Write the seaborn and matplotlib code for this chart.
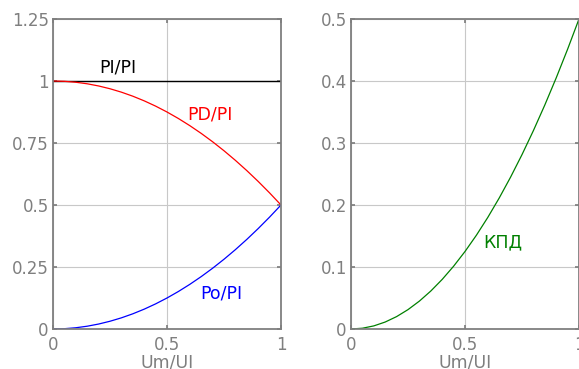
import matplotlib
matplotlib.use("Agg")
import matplotlib.pyplot as plt
import seaborn as sns
import pandas as pd

# data
ratio = [0.0, 0.05, 0.1, 0.15, 0.2, 0.25, 0.3, 0.35, 0.4, 0.45, 0.5,
         0.55, 0.6, 0.65, 0.7, 0.75, 0.8, 0.85, 0.9, 0.95, 1.0]
pi_pi = [1.0] * 21
po_pi = [0.0, 0.00125, 0.005, 0.01125, 0.02, 0.03125, 0.045, 0.06125, 0.08, 0.10125, 0.125,
         0.15125, 0.18, 0.21125, 0.245, 0.28125, 0.32, 0.36125, 0.405, 0.45125, 0.5]
pd_pi = [1.0, 0.99875, 0.995, 0.98875, 0.98, 0.96875, 0.955, 0.93875, 0.92, 0.89875, 0.875,
         0.84875, 0.82, 0.78875, 0.755, 0.71875, 0.68, 0.63875, 0.595, 0.54875, 0.5]
kpd = [0.0, 0.00125, 0.005, 0.01125, 0.02, 0.03125, 0.045, 0.06125, 0.08, 0.10125, 0.125,
       0.15125, 0.18, 0.21125, 0.245, 0.28125, 0.32, 0.36125, 0.405, 0.45125, 0.5]
left_yticks = [0, 0.25, 0.5, 0.75, 1, 1.25]
left_ylabels = ["0", "0.25", "0.5", "0.75", "1", "1.25"]
right_yticks = [0, 0.1, 0.2, 0.3, 0.4, 0.5]
right_ylabels = ["0", "0.1", "0.2", "0.3", "0.4", "0.5"]
xticks = [0, 0.5, 1]
xlabels = ["0", "0.5", "1"]

sns.set_theme(style="white")
plt.rcParams['font.family'] = ['DejaVu Sans']

gray = "#7f7f7f"
fig = plt.figure(figsize=(5.79, 3.69), dpi=100)
ax1 = fig.add_axes([53/579, 1-329/369, 228/579, 310/369])
ax2 = fig.add_axes([351/579, 1-329/369, 228/579, 310/369])

df = pd.DataFrame({"x": ratio, "pi": pi_pi, "pd": pd_pi, "po": po_pi, "kpd": kpd})
sns.lineplot(data=df, x="x", y="pi", ax=ax1, color="black", linewidth=1)
sns.lineplot(data=df, x="x", y="pd", ax=ax1, color="red", linewidth=0.9)
sns.lineplot(data=df, x="x", y="po", ax=ax1, color="blue", linewidth=0.9)
sns.lineplot(data=df, x="x", y="kpd", ax=ax2, color="green", linewidth=0.9)

tfs = 12.5
ax1.text(0.285, 1.056, "PI/PI", color="black", fontsize=tfs, ha="center", va="center")
ax1.text(0.69, 0.863, "PD/PI", color="red", fontsize=tfs, ha="center", va="center")
ax1.text(0.74, 0.145, "Po/PI", color="blue", fontsize=tfs, ha="center", va="center")
ax2.text(0.667, 0.140, "КПД", color="green", fontsize=tfs, ha="center", va="center")

for ax, yt, yl, ymax in [(ax1, left_yticks, left_ylabels, 1.25), (ax2, right_yticks, right_ylabels, 0.5)]:
    ax.set_xlim(0, 1)
    ax.set_ylim(0, ymax)
    ax.set_xticks(xticks)
    ax.set_xticklabels(xlabels)
    ax.set_yticks(yt)
    ax.set_yticklabels(yl)
    ax.grid(True, color="#c8c8c8", linewidth=0.8)
    ax.set_xlabel("Um/UI", color=gray, fontsize=12.5)
    ax.xaxis.set_label_coords(0.5, -0.08)
    ax.set_ylabel("")
    for s in ax.spines.values():
        s.set_color(gray)
        s.set_linewidth(1.3)
    ax.tick_params(axis="both", direction="in", length=3, color=gray, labelcolor=gray,
                   labelsize=12, top=True, right=True, bottom=True, left=True)
    ax.tick_params(axis="x", pad=5)
    ax.tick_params(axis="y", pad=3)

fig.savefig("out.png", dpi=100)
